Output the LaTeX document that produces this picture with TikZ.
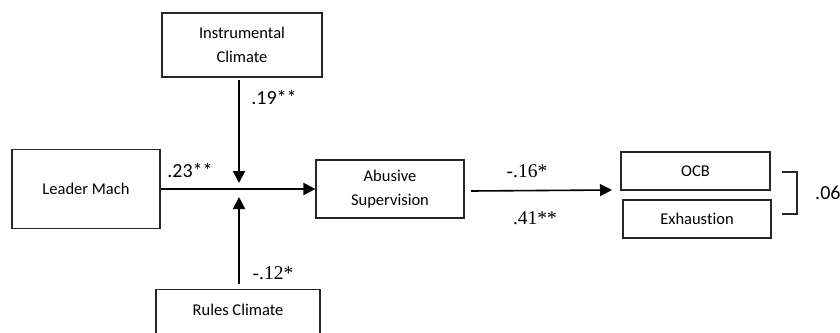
\documentclass[tikz,border=0pt]{standalone}
\usepackage{fontspec}
\setmainfont{Carlito}[Ligatures={NoCommon}]
\newfontfamily\tnr{Liberation Serif}
\usetikzlibrary{arrows.meta}
\begin{document}
\begin{tikzpicture}[x=1pt,y=-1pt,
  box/.style={draw=black!85,line width=1.2pt,rectangle,inner sep=0pt,align=center,font=\fontsize{16.5}{24}\selectfont},
  arr/.style={line width=2pt,-{Triangle[length=12pt,width=12pt]}},
  lbls/.style={font=\fontsize{20}{24}\selectfont,inner sep=0pt},
  lblt/.style={font=\tnr\fontsize{19.5}{24}\selectfont,inner sep=0pt}]
\clip (0,0) rectangle (840,332);
\fill[white] (0,0) rectangle (840,332);
\node[box,minimum width=160pt,minimum height=64pt] (instr) at (242,45) {Instrumental\\Climate};
\node[box,minimum width=148pt,minimum height=79pt] (leader) at (86,189) {Leader Mach};
\node[box,minimum width=148pt,minimum height=58pt] (abuse) at (390,189) {Abusive\\Supervision};
\node[box,minimum width=149pt,minimum height=38pt] (ocb) at (695.5,171) {OCB};
\node[box,minimum width=148pt,minimum height=38pt] (exh) at (697,219) {Exhaustion};
\node[box,minimum width=164pt,minimum height=60pt,anchor=north] (rules) at (238,289) {\raisebox{20pt}{Rules Climate}};
\coordinate (jt) at (239,183);
\coordinate (jb) at (239,197);
\coordinate (os) at (471,191);
\coordinate (oe) at (612,190);
\draw[arr] (leader.east) -- (abuse.west);
\draw[arr] ([yshift=-2pt]instr.south -| jt) -- (jt);
\draw[arr] ([yshift=5pt]rules.north -| jb) -- (jb);
\draw[arr,line width=1.6pt] (os) -- (oe);
\coordinate (b1) at (782,172);
\coordinate (b2) at (782,214);
\draw[line width=1.4pt,black!85] (b1) -- ++(15,0) -- ++(0,42) -- (b2);
\node[lbls] (l19) at (274,97) {.19**};
\node[lbls] (l23) at (190,170) {.23**};
\node[lblt] (l12) at (273,273) {-.12*};
\node[lblt] (l16) at (527,171) {-.16*};
\node[lblt] (l41) at (535,218) {.41**};
\node[lbls,anchor=west] (l06) at (815,193) {.06};
\end{tikzpicture}
\end{document}
